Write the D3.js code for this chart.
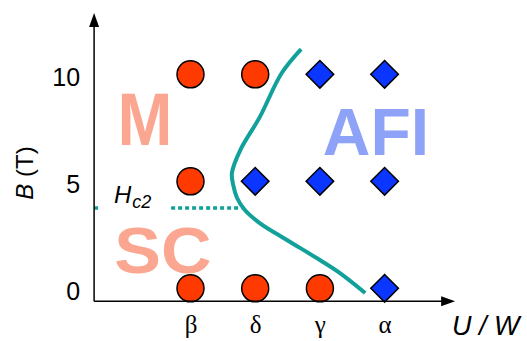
<!DOCTYPE html>
<html>
<head>
<meta charset="utf-8">
<script src="https://cdn.jsdelivr.net/npm/d3@7"></script>
<style>
  html, body { margin: 0; padding: 0; background: #fff; }
  svg { display: block; }
</style>
</head>
<body>
<svg id="chart" width="527" height="341"></svg>
<script>
// Samples along U/W (index positions) and applied field B (T)
const uwLabels = ["β", "δ", "γ", "α"];
const uwIndex = [1, 2, 3, 4];
const fieldTicks = [0, 5, 10];

// Metallic / superconducting samples (circles)
const metalU = [1, 2, 1, 1, 2, 3];
const metalB = [10, 10, 5, 0, 0, 0];

// Antiferromagnetic insulator samples (diamonds)
const afiU = [3, 4, 2, 3, 4, 4];
const afiB = [10, 10, 5, 5, 5, 0];

// Metal-insulator boundary
const boundaryU = [2.71, 2.41, 2.07, 1.77, 1.64, 1.66, 1.72, 1.84, 2.07, 2.49, 3.00, 3.31, 3.70];
const boundaryB = [11.18, 10.06, 8.00, 6.46, 5.39, 4.83, 4.22, 3.66, 3.05, 2.26, 1.32, 0.71, -0.22];

// Upper critical field
const hc2Field = 3.75;
const hc2U = [-0.49, 1.79];

const svg = d3.select("#chart");

const x = d3.scaleLinear().domain([0, 1]).range([125.8, 190.5]);
const y = d3.scaleLinear().domain([0, 10]).range([288.3, 74.3]);

const xMin = -0.49, xMax = 5.09;
const yMin = -0.6, yMax = 12.86;

const teal = "#12a09b";
const sans = "Liberation Sans, Arial, sans-serif";

// Phase labels
svg.append("text").attr("x", 145).attr("y", 145)
  .attr("text-anchor", "middle")
  .attr("font-family", sans)
  .attr("font-weight", "bold").attr("font-size", 66)
  .attr("fill", "#fba690")
  .attr("transform", "translate(145,145) scale(1,1.12) translate(-145,-145)")
  .text("M");
svg.append("text").attr("x", 163).attr("y", 273)
  .attr("text-anchor", "middle")
  .attr("font-family", sans)
  .attr("font-weight", "bold").attr("font-size", 70)
  .attr("fill", "#fba690")
  .attr("transform", "translate(163,273) scale(1,0.93) translate(-163,-273)")
  .text("SC");
svg.append("text").attr("x", 376).attr("y", 155)
  .attr("text-anchor", "middle")
  .attr("font-family", sans)
  .attr("font-weight", "bold").attr("font-size", 66)
  .attr("fill", "#8ea2f7")
  .text("AFI");

// Hc2 dotted line
svg.append("line")
  .attr("x1", x(hc2U[0])).attr("x2", x(hc2U[1]))
  .attr("y1", y(hc2Field)).attr("y2", y(hc2Field))
  .attr("stroke", teal).attr("stroke-width", 3.5)
  .attr("stroke-dasharray", "4,3");

// Hc2 label on a white backing
svg.append("rect").attr("x", 100).attr("y", 185).attr("width", 70).attr("height", 27).attr("fill", "#fff");
const hc2 = svg.append("text").attr("x", 114).attr("y", 203)
  .attr("font-family", sans)
  .attr("font-style", "italic").attr("font-size", 24).attr("fill", "#000");
hc2.append("tspan").text("H");
hc2.append("tspan").attr("dy", 5).attr("dx", 1).attr("font-size", 18).text("c2");

// Boundary curve
const line = d3.line()
  .x((d, i) => x(boundaryU[i]))
  .y((d, i) => y(boundaryB[i]))
  .curve(d3.curveCatmullRom.alpha(0.5));
svg.append("path").datum(boundaryU)
  .attr("d", line)
  .attr("fill", "none").attr("stroke", teal)
  .attr("stroke-width", 4).attr("stroke-linecap", "butt");

// Circles
svg.append("g").selectAll("circle")
  .data(metalU)
  .join("circle")
  .attr("cx", d => x(d))
  .attr("cy", (d, i) => y(metalB[i]))
  .attr("r", 13.5)
  .attr("fill", "#ff3a00").attr("stroke", "#000").attr("stroke-width", 1.5);

// Diamonds
const diamond = d3.symbol().type(d3.symbolSquare).size(19.5 * 19.5);
svg.append("g").selectAll("path")
  .data(afiU)
  .join("path")
  .attr("d", diamond)
  .attr("transform", (d, i) => `translate(${x(d)},${y(afiB[i])}) rotate(45)`)
  .attr("fill", "#0a36ff").attr("stroke", "#000").attr("stroke-width", 1.5);

// Axes with arrowheads
const x0 = x(xMin), y0 = y(yMin);
svg.append("line").attr("x1", x0).attr("y1", y0).attr("x2", x0).attr("y2", y(yMax) + 8)
  .attr("stroke", "#000").attr("stroke-width", 1.5);
svg.append("line").attr("x1", x0).attr("y1", y0).attr("x2", x(xMax) - 8).attr("y2", y0)
  .attr("stroke", "#000").attr("stroke-width", 1.5);
svg.append("path")
  .attr("d", `M${x0},${y(yMax)} L${x0 - 5},${y(yMax) + 14} L${x0 + 5},${y(yMax) + 14} Z`)
  .attr("fill", "#000");
svg.append("path")
  .attr("d", `M${x(xMax)},${y0} L${x(xMax) - 14},${y0 - 5} L${x(xMax) - 14},${y0 + 5} Z`)
  .attr("fill", "#000");

// Tick labels
const yAxis = svg.append("g").attr("transform", `translate(${x0 - 11},3)`)
  .call(d3.axisLeft(y).tickValues(fieldTicks).tickSize(0).tickFormat(d3.format("d")));
yAxis.select(".domain").remove();
yAxis.selectAll("text")
  .attr("font-family", sans)
  .attr("font-size", 25).attr("fill", "#000");

const xAxis = svg.append("g").attr("transform", `translate(0,${y0 + 11})`)
  .call(d3.axisBottom(x).tickValues(uwIndex).tickSize(0).tickFormat((d, i) => uwLabels[i]));
xAxis.select(".domain").remove();
xAxis.selectAll("text")
  .attr("font-family", "Liberation Serif, Times New Roman, serif")
  .attr("font-size", 25).attr("fill", "#000");

// Axis titles
svg.append("text").attr("x", 452).attr("y", 335)
  .attr("font-family", sans)
  .attr("font-style", "italic").attr("font-size", 27).attr("fill", "#000")
  .text("U / W");

const yt = svg.append("text")
  .attr("transform", "translate(33,173) rotate(-90)")
  .attr("text-anchor", "middle")
  .attr("font-family", sans)
  .attr("font-size", 24).attr("fill", "#000");
yt.append("tspan").attr("font-style", "italic").text("B");
yt.append("tspan").text(" (T)");
</script>
</body>
</html>
